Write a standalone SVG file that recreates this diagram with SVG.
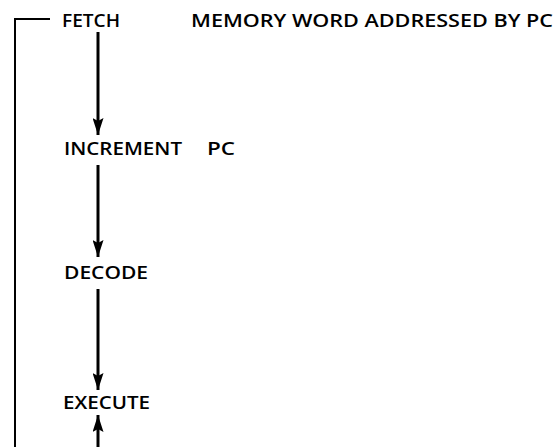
<svg xmlns="http://www.w3.org/2000/svg" width="558" height="447" viewBox="0 0 558 447">
<style>
.t{font-family:"Open Sans","Liberation Sans",Arial,sans-serif;font-weight:600;font-size:18.5px;fill:#000}
.c{stroke:#000;fill:none}
.a{stroke-width:3}
</style>
<defs>
<marker id="ah" viewBox="0 -5.5 17 11" refX="17" refY="0" markerWidth="17" markerHeight="11" markerUnits="userSpaceOnUse" orient="auto">
<path d="M0,-5.5 L17,0 L0,5.5 L3,0 Z" fill="#000"/>
</marker>
</defs>
<rect width="558" height="447" fill="#fff"/>
<g id="connectors">
<path class="c" stroke-width="2" d="M15,447 V19 H50"/>
<line class="c a" x1="98" y1="32" x2="98" y2="135" marker-end="url(#ah)"/>
<line class="c a" x1="98" y1="165" x2="98" y2="257" marker-end="url(#ah)"/>
<line class="c a" x1="98" y1="289" x2="98" y2="390" marker-end="url(#ah)"/>
<line class="c a" x1="98" y1="447" x2="98" y2="415" marker-end="url(#ah)"/>
</g>
<g id="fetch">
<text class="t" x="62" y="27" textLength="58" lengthAdjust="spacingAndGlyphs">FETCH</text>
<text class="t" x="191" y="27" textLength="362" lengthAdjust="spacingAndGlyphs">MEMORY WORD ADDRESSED BY PC</text>
</g>
<g id="increment">
<text class="t" x="64" y="155" textLength="118" lengthAdjust="spacingAndGlyphs">INCREMENT</text>
<text class="t" x="207" y="155" textLength="28" lengthAdjust="spacingAndGlyphs">PC</text>
</g>
<g id="decode">
<text class="t" x="64" y="279" textLength="84" lengthAdjust="spacingAndGlyphs">DECODE</text>
</g>
<g id="execute">
<text class="t" x="63" y="409" textLength="87" lengthAdjust="spacingAndGlyphs">EXECUTE</text>
</g>
</svg>
